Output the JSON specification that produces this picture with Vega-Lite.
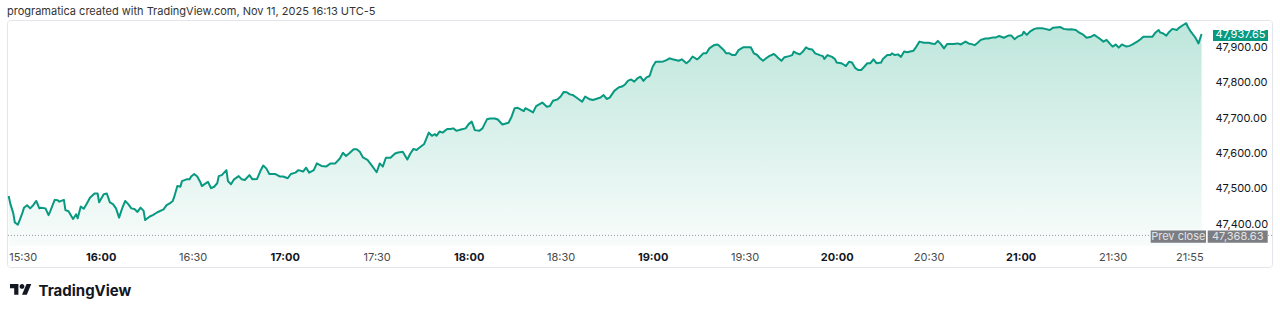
{
  "$schema": "https://vega.github.io/schema/vega-lite/v6.json",
  "width": 1265,
  "height": 247,
  "autosize": {"type": "none"},
  "padding": {"left": 7, "top": 20, "right": 8, "bottom": 47},
  "background": "#ffffff",
  "config": {
    "font": "Inter",
    "view": {"stroke": "#e3e5ea", "strokeWidth": 1, "cornerRadius": 3}
  },
  "title": {
    "text": "programatica created with TradingView.com, Nov 11, 2025 16:13 UTC-5",
    "anchor": "start",
    "fontSize": 11,
    "fontWeight": "normal",
    "font": "Inter",
    "color": "#333333",
    "offset": 3
  },
  "datasets": {
    "main": [
      {"time": "15:30:00", "close": 47480}, {"time": "15:30:30", "close": 47459}, {"time": "15:31:30", "close": 47431}, {"time": "15:32:00", "close": 47405},
      {"time": "15:33:00", "close": 47399}, {"time": "15:33:30", "close": 47410}, {"time": "15:34:30", "close": 47433}, {"time": "15:35:00", "close": 47447},
      {"time": "15:36:00", "close": 47454}, {"time": "15:37:00", "close": 47445}, {"time": "15:38:00", "close": 47454}, {"time": "15:39:00", "close": 47466},
      {"time": "15:40:00", "close": 47445}, {"time": "15:40:30", "close": 47447}, {"time": "15:42:00", "close": 47445}, {"time": "15:43:00", "close": 47426},
      {"time": "15:43:30", "close": 47436}, {"time": "15:45:00", "close": 47469}, {"time": "15:46:00", "close": 47468}, {"time": "15:46:30", "close": 47464},
      {"time": "15:48:00", "close": 47469}, {"time": "15:48:30", "close": 47440}, {"time": "15:49:30", "close": 47437}, {"time": "15:51:00", "close": 47415},
      {"time": "15:52:00", "close": 47428}, {"time": "15:52:30", "close": 47417}, {"time": "15:53:30", "close": 47450}, {"time": "15:54:30", "close": 47444},
      {"time": "15:55:30", "close": 47459}, {"time": "15:56:30", "close": 47475}, {"time": "15:58:00", "close": 47487}, {"time": "15:59:00", "close": 47487},
      {"time": "15:59:30", "close": 47462}, {"time": "16:01:00", "close": 47485}, {"time": "16:02:00", "close": 47487}, {"time": "16:03:00", "close": 47462},
      {"time": "16:04:00", "close": 47457}, {"time": "16:05:00", "close": 47445}, {"time": "16:06:00", "close": 47419}, {"time": "16:07:00", "close": 47445},
      {"time": "16:08:00", "close": 47466}, {"time": "16:09:00", "close": 47457}, {"time": "16:10:00", "close": 47445}, {"time": "16:11:00", "close": 47443},
      {"time": "16:12:00", "close": 47435}, {"time": "16:13:00", "close": 47447}, {"time": "16:14:00", "close": 47438}, {"time": "16:14:30", "close": 47412},
      {"time": "16:16:00", "close": 47422}, {"time": "16:17:00", "close": 47426}, {"time": "16:18:30", "close": 47434}, {"time": "16:20:30", "close": 47442},
      {"time": "16:21:30", "close": 47454}, {"time": "16:22:30", "close": 47459}, {"time": "16:23:30", "close": 47466}, {"time": "16:24:00", "close": 47478},
      {"time": "16:25:00", "close": 47508}, {"time": "16:26:00", "close": 47506}, {"time": "16:26:30", "close": 47522}, {"time": "16:28:00", "close": 47527},
      {"time": "16:29:00", "close": 47527}, {"time": "16:29:30", "close": 47535}, {"time": "16:30:30", "close": 47542}, {"time": "16:31:30", "close": 47535},
      {"time": "16:32:30", "close": 47519}, {"time": "16:33:00", "close": 47508}, {"time": "16:34:00", "close": 47514}, {"time": "16:35:00", "close": 47520},
      {"time": "16:36:00", "close": 47502}, {"time": "16:37:00", "close": 47506}, {"time": "16:38:00", "close": 47516}, {"time": "16:38:30", "close": 47536},
      {"time": "16:39:30", "close": 47539}, {"time": "16:41:00", "close": 47553}, {"time": "16:41:30", "close": 47522}, {"time": "16:42:30", "close": 47513},
      {"time": "16:43:30", "close": 47527}, {"time": "16:45:00", "close": 47536}, {"time": "16:46:00", "close": 47527}, {"time": "16:47:00", "close": 47525},
      {"time": "16:48:30", "close": 47539}, {"time": "16:49:30", "close": 47527}, {"time": "16:51:00", "close": 47528}, {"time": "16:52:00", "close": 47549},
      {"time": "16:53:00", "close": 47566}, {"time": "16:54:00", "close": 47558}, {"time": "16:55:00", "close": 47542}, {"time": "16:57:00", "close": 47542},
      {"time": "16:58:30", "close": 47535}, {"time": "16:59:30", "close": 47535}, {"time": "17:01:00", "close": 47530}, {"time": "17:02:00", "close": 47542},
      {"time": "17:03:30", "close": 47546}, {"time": "17:04:30", "close": 47553}, {"time": "17:06:00", "close": 47549}, {"time": "17:07:00", "close": 47560},
      {"time": "17:08:00", "close": 47546}, {"time": "17:09:30", "close": 47553}, {"time": "17:10:30", "close": 47572}, {"time": "17:12:00", "close": 47565},
      {"time": "17:13:30", "close": 47563}, {"time": "17:15:00", "close": 47572}, {"time": "17:16:30", "close": 47572}, {"time": "17:18:00", "close": 47586},
      {"time": "17:19:00", "close": 47602}, {"time": "17:20:00", "close": 47593}, {"time": "17:21:00", "close": 47600}, {"time": "17:22:30", "close": 47612},
      {"time": "17:23:30", "close": 47612}, {"time": "17:24:30", "close": 47605}, {"time": "17:25:30", "close": 47589}, {"time": "17:27:00", "close": 47582},
      {"time": "17:28:30", "close": 47565}, {"time": "17:30:00", "close": 47547}, {"time": "17:31:00", "close": 47572}, {"time": "17:32:00", "close": 47563},
      {"time": "17:33:00", "close": 47588}, {"time": "17:34:30", "close": 47588}, {"time": "17:36:00", "close": 47600}, {"time": "17:37:00", "close": 47603},
      {"time": "17:38:30", "close": 47605}, {"time": "17:40:00", "close": 47583}, {"time": "17:41:00", "close": 47600}, {"time": "17:42:00", "close": 47613},
      {"time": "17:43:00", "close": 47610}, {"time": "17:44:00", "close": 47617}, {"time": "17:45:30", "close": 47627}, {"time": "17:47:00", "close": 47659},
      {"time": "17:48:00", "close": 47650}, {"time": "17:49:00", "close": 47655}, {"time": "17:49:30", "close": 47650}, {"time": "17:50:30", "close": 47662},
      {"time": "17:51:30", "close": 47659}, {"time": "17:53:00", "close": 47669}, {"time": "17:54:00", "close": 47669}, {"time": "17:55:00", "close": 47671},
      {"time": "17:56:00", "close": 47664}, {"time": "17:57:30", "close": 47668}, {"time": "17:59:00", "close": 47671}, {"time": "18:00:00", "close": 47683},
      {"time": "18:01:00", "close": 47690}, {"time": "18:02:00", "close": 47666}, {"time": "18:03:30", "close": 47664}, {"time": "18:04:30", "close": 47671},
      {"time": "18:06:00", "close": 47697}, {"time": "18:07:00", "close": 47699}, {"time": "18:08:30", "close": 47699}, {"time": "18:09:30", "close": 47696},
      {"time": "18:11:00", "close": 47682}, {"time": "18:13:00", "close": 47687}, {"time": "18:14:00", "close": 47704}, {"time": "18:15:00", "close": 47728},
      {"time": "18:16:00", "close": 47729}, {"time": "18:18:00", "close": 47720}, {"time": "18:18:30", "close": 47728}, {"time": "18:20:00", "close": 47721},
      {"time": "18:21:00", "close": 47716}, {"time": "18:22:00", "close": 47734}, {"time": "18:23:00", "close": 47739}, {"time": "18:24:00", "close": 47744},
      {"time": "18:25:30", "close": 47732}, {"time": "18:26:30", "close": 47734}, {"time": "18:27:30", "close": 47749}, {"time": "18:29:00", "close": 47753},
      {"time": "18:30:00", "close": 47761}, {"time": "18:31:00", "close": 47774}, {"time": "18:32:00", "close": 47773}, {"time": "18:33:00", "close": 47767},
      {"time": "18:34:00", "close": 47765}, {"time": "18:35:00", "close": 47759}, {"time": "18:37:00", "close": 47746}, {"time": "18:38:00", "close": 47761},
      {"time": "18:39:30", "close": 47753}, {"time": "18:40:30", "close": 47751}, {"time": "18:43:00", "close": 47758}, {"time": "18:44:00", "close": 47765},
      {"time": "18:45:00", "close": 47754}, {"time": "18:46:00", "close": 47758}, {"time": "18:47:30", "close": 47777}, {"time": "18:49:00", "close": 47787},
      {"time": "18:50:00", "close": 47789}, {"time": "18:51:00", "close": 47795}, {"time": "18:52:00", "close": 47806}, {"time": "18:53:00", "close": 47809},
      {"time": "18:54:00", "close": 47803}, {"time": "18:55:00", "close": 47812}, {"time": "18:56:00", "close": 47817}, {"time": "18:57:00", "close": 47805},
      {"time": "18:58:00", "close": 47815}, {"time": "18:59:00", "close": 47819}, {"time": "19:00:00", "close": 47845}, {"time": "19:01:00", "close": 47859},
      {"time": "19:02:30", "close": 47859}, {"time": "19:03:30", "close": 47860}, {"time": "19:04:30", "close": 47864}, {"time": "19:05:30", "close": 47869},
      {"time": "19:06:30", "close": 47866}, {"time": "19:08:30", "close": 47862}, {"time": "19:09:30", "close": 47866}, {"time": "19:11:00", "close": 47855},
      {"time": "19:12:00", "close": 47862}, {"time": "19:13:00", "close": 47874}, {"time": "19:14:30", "close": 47866}, {"time": "19:15:00", "close": 47869},
      {"time": "19:16:30", "close": 47883}, {"time": "19:17:30", "close": 47883}, {"time": "19:18:30", "close": 47897}, {"time": "19:20:00", "close": 47906},
      {"time": "19:21:00", "close": 47908}, {"time": "19:21:30", "close": 47906}, {"time": "19:23:00", "close": 47894}, {"time": "19:24:00", "close": 47883},
      {"time": "19:25:00", "close": 47883}, {"time": "19:26:00", "close": 47878}, {"time": "19:27:00", "close": 47878}, {"time": "19:28:00", "close": 47892},
      {"time": "19:29:30", "close": 47900}, {"time": "19:30:30", "close": 47900}, {"time": "19:32:00", "close": 47900}, {"time": "19:33:00", "close": 47883},
      {"time": "19:34:00", "close": 47879}, {"time": "19:35:00", "close": 47869}, {"time": "19:36:00", "close": 47862}, {"time": "19:37:00", "close": 47869},
      {"time": "19:38:00", "close": 47875}, {"time": "19:39:30", "close": 47881}, {"time": "19:40:00", "close": 47878}, {"time": "19:41:00", "close": 47869},
      {"time": "19:42:00", "close": 47862}, {"time": "19:43:00", "close": 47872}, {"time": "19:44:30", "close": 47875}, {"time": "19:45:30", "close": 47878},
      {"time": "19:46:00", "close": 47888}, {"time": "19:47:00", "close": 47883}, {"time": "19:48:00", "close": 47880}, {"time": "19:49:00", "close": 47888},
      {"time": "19:50:00", "close": 47900}, {"time": "19:51:00", "close": 47895}, {"time": "19:52:00", "close": 47894}, {"time": "19:53:00", "close": 47883},
      {"time": "19:54:30", "close": 47878}, {"time": "19:55:30", "close": 47875}, {"time": "19:56:00", "close": 47867}, {"time": "19:57:00", "close": 47878},
      {"time": "19:58:30", "close": 47873}, {"time": "19:59:30", "close": 47866}, {"time": "20:00:00", "close": 47857}, {"time": "20:01:30", "close": 47855},
      {"time": "20:02:30", "close": 47850}, {"time": "20:03:00", "close": 47847}, {"time": "20:04:00", "close": 47859}, {"time": "20:05:00", "close": 47857},
      {"time": "20:06:00", "close": 47842}, {"time": "20:07:00", "close": 47836}, {"time": "20:08:00", "close": 47836}, {"time": "20:09:00", "close": 47845},
      {"time": "20:10:00", "close": 47855}, {"time": "20:11:00", "close": 47855}, {"time": "20:12:00", "close": 47866}, {"time": "20:13:00", "close": 47855},
      {"time": "20:14:30", "close": 47857}, {"time": "20:15:00", "close": 47866}, {"time": "20:16:30", "close": 47878}, {"time": "20:17:30", "close": 47878},
      {"time": "20:18:00", "close": 47883}, {"time": "20:19:00", "close": 47878}, {"time": "20:20:00", "close": 47880}, {"time": "20:21:00", "close": 47873},
      {"time": "20:22:00", "close": 47888}, {"time": "20:23:00", "close": 47886}, {"time": "20:24:00", "close": 47888}, {"time": "20:25:00", "close": 47890},
      {"time": "20:26:00", "close": 47902}, {"time": "20:27:00", "close": 47916}, {"time": "20:28:30", "close": 47913}, {"time": "20:30:00", "close": 47913},
      {"time": "20:31:00", "close": 47911}, {"time": "20:32:00", "close": 47909}, {"time": "20:33:00", "close": 47918}, {"time": "20:34:00", "close": 47909},
      {"time": "20:35:00", "close": 47897}, {"time": "20:36:00", "close": 47909}, {"time": "20:37:00", "close": 47909}, {"time": "20:38:00", "close": 47909},
      {"time": "20:39:30", "close": 47911}, {"time": "20:40:30", "close": 47908}, {"time": "20:42:00", "close": 47916}, {"time": "20:43:00", "close": 47911},
      {"time": "20:44:00", "close": 47909}, {"time": "20:45:00", "close": 47906}, {"time": "20:46:00", "close": 47913}, {"time": "20:47:00", "close": 47921},
      {"time": "20:48:30", "close": 47925}, {"time": "20:49:30", "close": 47925}, {"time": "20:51:00", "close": 47928}, {"time": "20:52:00", "close": 47928},
      {"time": "20:53:00", "close": 47932}, {"time": "20:54:30", "close": 47927}, {"time": "20:56:00", "close": 47933}, {"time": "20:57:00", "close": 47933},
      {"time": "20:58:00", "close": 47923}, {"time": "20:59:00", "close": 47930}, {"time": "21:00:30", "close": 47935}, {"time": "21:01:00", "close": 47944},
      {"time": "21:02:00", "close": 47935}, {"time": "21:03:00", "close": 47944}, {"time": "21:04:30", "close": 47952}, {"time": "21:05:30", "close": 47954},
      {"time": "21:07:00", "close": 47954}, {"time": "21:08:00", "close": 47952}, {"time": "21:09:30", "close": 47949}, {"time": "21:10:30", "close": 47955},
      {"time": "21:11:30", "close": 47956}, {"time": "21:13:00", "close": 47957}, {"time": "21:14:00", "close": 47952}, {"time": "21:15:30", "close": 47950},
      {"time": "21:16:30", "close": 47951}, {"time": "21:18:00", "close": 47949}, {"time": "21:19:00", "close": 47942}, {"time": "21:20:30", "close": 47935},
      {"time": "21:21:30", "close": 47927}, {"time": "21:23:00", "close": 47930}, {"time": "21:24:00", "close": 47935}, {"time": "21:25:00", "close": 47929},
      {"time": "21:26:00", "close": 47923}, {"time": "21:27:00", "close": 47916}, {"time": "21:28:00", "close": 47921}, {"time": "21:29:00", "close": 47911},
      {"time": "21:30:00", "close": 47902}, {"time": "21:31:00", "close": 47908}, {"time": "21:32:00", "close": 47899}, {"time": "21:33:00", "close": 47908},
      {"time": "21:34:30", "close": 47902}, {"time": "21:35:30", "close": 47904}, {"time": "21:36:30", "close": 47908}, {"time": "21:38:00", "close": 47916},
      {"time": "21:39:00", "close": 47922}, {"time": "21:40:00", "close": 47930}, {"time": "21:41:30", "close": 47930}, {"time": "21:43:00", "close": 47930},
      {"time": "21:44:00", "close": 47942}, {"time": "21:45:00", "close": 47949}, {"time": "21:45:30", "close": 47942}, {"time": "21:46:30", "close": 47939},
      {"time": "21:47:30", "close": 47933}, {"time": "21:48:30", "close": 47944}, {"time": "21:49:30", "close": 47952}, {"time": "21:51:00", "close": 47949},
      {"time": "21:51:30", "close": 47954}, {"time": "21:53:00", "close": 47963}, {"time": "21:54:00", "close": 47968}, {"time": "21:54:30", "close": 47958},
      {"time": "21:55:30", "close": 47944}, {"time": "21:57:00", "close": 47927}, {"time": "21:58:00", "close": 47911}, {"time": "21:59:00", "close": 47937.65}
    ],
    "tags": [
      {"kind": "last", "price": 47937.65, "label": "47,937.65"},
      {"kind": "prev", "price": 47368.63, "label": "47,368.63"}
    ]
  },
  "data": {"name": "main", "format": {"parse": {"time": "date:'%H:%M:%S'"}}},
  "encoding": {
    "x": {
      "field": "time",
      "type": "temporal",
      "scale": {
        "domain": [
          {"year": 1900, "month": 1, "date": 1, "hours": 15, "minutes": 29, "seconds": 27},
          {"year": 1900, "month": 1, "date": 1, "hours": 22, "minutes": 21, "seconds": 58}
        ]
      },
      "axis": {
        "values": [
          {"year": 1900, "month": 1, "date": 1, "hours": 15, "minutes": 30},
          {"year": 1900, "month": 1, "date": 1, "hours": 16, "minutes": 0},
          {"year": 1900, "month": 1, "date": 1, "hours": 16, "minutes": 30},
          {"year": 1900, "month": 1, "date": 1, "hours": 17, "minutes": 0},
          {"year": 1900, "month": 1, "date": 1, "hours": 17, "minutes": 30},
          {"year": 1900, "month": 1, "date": 1, "hours": 18, "minutes": 0},
          {"year": 1900, "month": 1, "date": 1, "hours": 18, "minutes": 30},
          {"year": 1900, "month": 1, "date": 1, "hours": 19, "minutes": 0},
          {"year": 1900, "month": 1, "date": 1, "hours": 19, "minutes": 30},
          {"year": 1900, "month": 1, "date": 1, "hours": 20, "minutes": 0},
          {"year": 1900, "month": 1, "date": 1, "hours": 20, "minutes": 30},
          {"year": 1900, "month": 1, "date": 1, "hours": 21, "minutes": 0},
          {"year": 1900, "month": 1, "date": 1, "hours": 21, "minutes": 30},
          {"year": 1900, "month": 1, "date": 1, "hours": 21, "minutes": 55}
        ],
        "format": "%H:%M",
        "grid": false,
        "domain": false,
        "ticks": false,
        "labelFont": "Inter",
        "labelFontSize": 11,
        "labelColor": {"condition": {"test": "minutes(datum.value) === 0", "value": "#131722"}, "value": "#4a4a4a"},
        "labelFontWeight": {"condition": {"test": "minutes(datum.value) === 0", "value": "bold"}, "value": "normal"},
        "labelPadding": -16,
        "labelFlush": 5,
        "labelOverlap": false,
        "title": "TradingView",
        "titleFont": "Inter",
        "titleFontSize": 15,
        "titleFontWeight": "bold",
        "titleColor": "#131722",
        "titleAnchor": "start",
        "titleAlign": "left",
        "titleBaseline": "alphabetic",
        "titleX": 31,
        "titleY": 28
      }
    },
    "y": {
      "field": "close",
      "type": "quantitative",
      "scale": {"domain": [47279.4, 47977.1], "zero": false, "nice": false},
      "axis": {
        "orient": "right",
        "values": [47400, 47500, 47600, 47700, 47800, 47900],
        "format": ",.2f",
        "grid": false,
        "domain": false,
        "ticks": false,
        "labelFont": "Inter",
        "labelFontSize": 11,
        "labelColor": "#131722",
        "labelAlign": "left",
        "labelBaseline": "middle",
        "labelPadding": -57,
        "title": null
      }
    }
  },
  "layer": [
    {
      "mark": {
        "type": "area",
        "color": {
          "gradient": "linear",
          "x1": 0, "y1": 0, "x2": 0, "y2": 1,
          "stops": [
            {"offset": 0, "color": "#bde6db"},
            {"offset": 1, "color": "#f8fcfb"}
          ]
        }
      },
      "encoding": {"y2": {"datum": 47339}}
    },
    {
      "mark": {"type": "line", "color": "#089981", "strokeWidth": 2, "strokeJoin": "round"}
    },
    {
      "data": {"name": "tags"},
      "transform": [{"filter": "datum.kind === 'prev'"}],
      "mark": {"type": "rule", "color": "#9a9da6", "strokeWidth": 1, "strokeDash": [1, 2]},
      "encoding": {
        "x": {"value": 1},
        "x2": {"value": "width"},
        "y": {"field": "price", "type": "quantitative"}
      }
    },
    {
      "data": {"name": "tags"},
      "transform": [{"filter": "datum.kind === 'last'"}],
      "mark": {"type": "point", "shape": "M-59,-4H-4V7H-59Z", "size": 4, "filled": true, "color": "#089981", "opacity": 1, "strokeWidth": 0},
      "encoding": {
        "x": {"value": "width"},
        "y": {"field": "price", "type": "quantitative"}
      }
    },
    {
      "data": {"name": "tags"},
      "transform": [{"filter": "datum.kind === 'last'"}],
      "mark": {"type": "text", "font": "Inter", "fontSize": 11, "color": "#ffffff", "align": "center", "baseline": "middle", "dx": -31.5, "dy": 1.5},
      "encoding": {
        "x": {"value": "width"},
        "y": {"field": "price", "type": "quantitative"},
        "text": {"field": "label"}
      }
    },
    {
      "data": {"name": "tags"},
      "transform": [{"filter": "datum.kind === 'prev'"}],
      "mark": {"type": "point", "shape": "M-121.3,-5H-66V7.3H-121.3ZM-64.3,-5H-4.3V7.3H-64.3Z", "size": 4, "filled": true, "color": "#7b7d83", "opacity": 1, "strokeWidth": 0},
      "encoding": {
        "x": {"value": "width"},
        "y": {"field": "price", "type": "quantitative"}
      }
    },
    {
      "data": {"name": "tags"},
      "transform": [{"filter": "datum.kind === 'prev'"}],
      "mark": {"type": "text", "font": "Inter", "fontSize": 11, "color": "#e4e4e6", "align": "center", "baseline": "middle", "dx": -34.3, "dy": 1.2},
      "encoding": {
        "x": {"value": "width"},
        "y": {"field": "price", "type": "quantitative"},
        "text": {"field": "label"}
      }
    },
    {
      "data": {"name": "tags"},
      "transform": [{"filter": "datum.kind === 'prev'"}],
      "mark": {"type": "text", "text": "Prev close", "font": "Inter", "fontSize": 11, "color": "#e4e4e6", "align": "center", "baseline": "middle", "dx": -93.7, "dy": 1.2},
      "encoding": {
        "x": {"value": "width"},
        "y": {"field": "price", "type": "quantitative"}
      }
    },
    {
      "data": {"values": [{"brand": "TradingView"}]},
      "mark": {"type": "point", "shape": "M3,17H11.4V27.8H7.2V21.2H3ZM12.6,19.4A2.4,2.4 0 1,0 17.4,19.4A2.4,2.4 0 1,0 12.6,19.4ZM15,27.8L19.5,17H24.3L19.8,27.8Z", "size": 4, "filled": true, "color": "#131722", "opacity": 1, "strokeWidth": 0},
      "encoding": {
        "x": {"value": 0},
        "y": {"value": "height"}
      }
    }
  ]
}
